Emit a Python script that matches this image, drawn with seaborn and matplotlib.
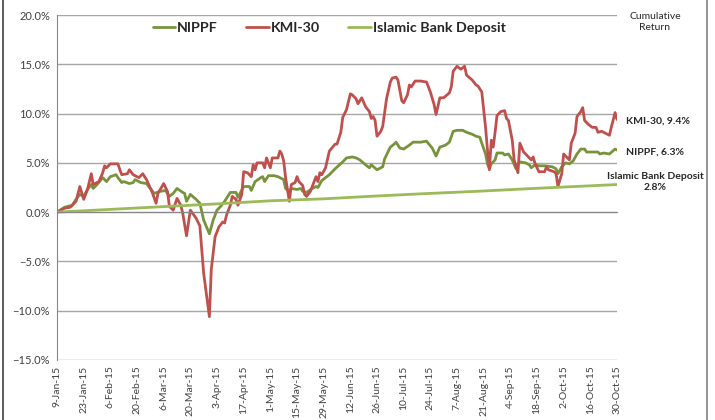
import pandas as pd
import numpy as np
import matplotlib
matplotlib.use("Agg")
import matplotlib.pyplot as plt
import matplotlib.ticker as mticker
import matplotlib.dates as mdates
from matplotlib.lines import Line2D
import seaborn as sns

start = pd.Timestamp("2015-01-09")

# day offsets from 9-Jan-15 and cumulative returns in %
kmi_days = [0, 4, 7, 10, 12, 14, 16, 18, 19, 22, 24, 25, 26, 28, 32, 33, 34, 37, 38, 40,
            43, 45, 47, 50, 52, 53, 56, 58, 59, 61, 63, 65, 66, 68, 70, 73, 75, 77, 80, 81,
            83, 85, 87, 88, 89, 91, 92, 94, 95, 97, 98, 100, 102, 103, 104, 105, 108, 109, 110, 112,
            113, 116, 117, 118, 119, 120, 122, 123, 125, 126, 127, 129, 130, 131, 133, 136, 137, 138, 139, 141,
            143, 146, 147, 149, 150, 152, 154, 155, 157, 158, 160, 162, 164, 165, 166, 167, 168, 170, 171, 173,
            175, 176, 178, 179, 181, 182, 184, 185, 186, 188, 191, 194, 196, 198, 199, 201, 203, 206, 207, 208,
            210, 212, 214, 215, 218, 220, 221, 223, 225, 226, 227, 228, 229, 230, 231, 233, 235, 236, 237, 239,
            240, 242, 243, 245, 247, 249, 250, 251, 253, 256, 257, 258, 261, 262, 263, 265, 266, 268, 269, 270,
            272, 273, 275, 276, 277, 279, 281, 283, 284, 286, 288, 290, 291, 293, 294]
kmi_vals = [0.0, 0.4, 0.5, 1.1, 2.6, 1.3, 2.3, 3.9, 2.8, 3.1, 4.0, 4.7, 4.5, 4.9, 4.9, 4.3, 3.8, 3.9, 4.3, 3.8,
            3.5, 3.9, 3.3, 2.0, 0.9, 1.9, 2.9, 2.1, 0.6, 0.2, 1.4, 0.7, -0.1, -2.4, 0.2, -0.6, -1.4, -6.2, -10.6, -5.8,
            -2.5, -1.5, -1.0, -1.1, -0.3, 0.7, 1.6, 1.3, 0.7, 1.8, 4.1, 4.0, 3.6, 4.8, 4.3, 5.0, 5.0, 4.5, 5.5, 4.5,
            5.5, 5.5, 6.2, 5.9, 5.2, 3.5, 1.1, 2.8, 3.0, 3.6, 3.1, 2.7, 1.8, 1.6, 2.1, 3.6, 3.1, 4.0, 3.8, 4.5,
            6.2, 6.9, 6.9, 8.1, 9.6, 10.4, 12.0, 11.9, 11.5, 11.0, 11.6, 10.7, 10.2, 9.5, 9.7, 9.3, 7.7, 8.2, 8.7, 11.5,
            13.2, 13.6, 13.7, 13.4, 11.3, 11.1, 11.9, 12.9, 12.7, 13.3, 13.3, 13.2, 12.2, 10.9, 9.9, 11.6, 11.6, 12.1, 12.7, 14.3,
            14.8, 14.5, 14.8, 13.9, 13.4, 12.9, 12.8, 12.2, 8.6, 6.3, 4.3, 7.3, 6.6, 8.1, 9.8, 10.2, 10.3, 9.5, 9.3, 7.3,
            5.3, 4.0, 7.0, 6.1, 5.7, 5.3, 5.6, 4.9, 4.1, 4.1, 4.6, 4.3, 4.1, 3.9, 2.6, 3.9, 5.9, 5.5, 5.3, 7.0,
            8.0, 9.7, 10.2, 10.6, 9.3, 8.9, 8.6, 8.6, 8.1, 8.2, 8.0, 7.8, 8.6, 10.1, 9.4]

nippf_days = [0, 4, 8, 10, 12, 14, 16, 18, 19, 21, 24, 26, 28, 31, 32, 34, 35, 38, 40, 41,
              44, 47, 51, 54, 57, 59, 61, 63, 66, 67, 68, 70, 73, 75, 77, 80, 82, 84, 86, 88,
              91, 94, 95, 98, 101, 102, 104, 107, 108, 109, 111, 114, 116, 119, 120, 122, 123, 126, 128, 129,
              131, 134, 136, 137, 139, 143, 146, 150, 152, 155, 157, 159, 162, 164, 165, 168, 171, 172, 175, 177,
              178, 180, 182, 185, 187, 191, 194, 197, 199, 201, 204, 206, 208, 210, 213, 215, 218, 220, 222, 223,
              225, 226, 227, 228, 230, 231, 234, 235, 237, 239, 241, 242, 243, 246, 248, 249, 251, 253, 256, 260,
              262, 263, 265, 267, 269, 271, 273, 275, 277, 278, 282, 284, 285, 287, 290, 293, 294]
nippf_vals = [0.0, 0.5, 0.7, 1.3, 1.8, 1.6, 2.3, 2.8, 2.4, 2.8, 3.5, 3.1, 3.6, 3.8, 3.5, 3.0, 3.1, 2.9, 3.0, 3.3,
              3.0, 2.9, 1.9, 2.1, 2.2, 1.6, 1.9, 2.4, 2.0, 1.9, 1.1, 1.8, 1.3, 0.9, -0.8, -2.2, -0.8, 0.2, 0.6, 1.1,
              2.0, 2.0, 1.5, 2.6, 2.6, 2.2, 3.1, 3.5, 3.6, 3.1, 3.7, 3.7, 3.6, 3.3, 2.4, 2.1, 2.4, 2.3, 2.4, 2.1,
              2.0, 2.4, 2.6, 2.5, 3.2, 3.8, 4.4, 5.1, 5.5, 5.6, 5.5, 5.3, 4.8, 4.5, 4.8, 4.3, 4.6, 5.4, 6.6, 6.9,
              7.1, 6.5, 6.4, 6.8, 7.1, 7.1, 7.2, 6.5, 5.7, 6.6, 6.8, 7.1, 8.2, 8.3, 8.3, 8.1, 7.9, 7.7, 7.6, 7.0,
              5.9, 4.9, 4.4, 4.9, 5.3, 6.0, 6.0, 5.8, 5.9, 5.3, 4.4, 4.9, 5.1, 5.0, 4.8, 4.5, 4.8, 4.7, 4.7, 4.6,
              4.4, 3.9, 4.6, 5.0, 4.9, 5.2, 5.9, 6.4, 6.4, 6.1, 6.1, 6.1, 5.9, 6.0, 5.9, 6.4, 6.3]

deposit_days = [0, 30, 54, 85, 112, 140, 164, 190, 219, 250, 294]
deposit_vals = [0.0, 0.3, 0.54, 0.85, 1.15, 1.35, 1.6, 1.85, 2.1, 2.4, 2.8]

tick_labels = ["9-Jan-15", "23-Jan-15", "6-Feb-15", "20-Feb-15", "6-Mar-15", "20-Mar-15",
               "3-Apr-15", "17-Apr-15", "1-May-15", "15-May-15", "29-May-15", "12-Jun-15",
               "26-Jun-15", "10-Jul-15", "24-Jul-15", "7-Aug-15", "21-Aug-15", "4-Sep-15",
               "18-Sep-15", "2-Oct-15", "16-Oct-15", "30-Oct-15"]

end_labels = ["KMI-30, 9.4%", "NIPPF, 6.3%", "Islamic Bank Deposit\n2.8%"]

c_nippf = "#77933C"
c_kmi = "#C0504D"
c_dep = "#9BBB59"

sns.set_style("white")
plt.rcParams["font.family"] = ["Lato", "DejaVu Sans"]

def to_dates(days):
    return start + pd.to_timedelta(days, unit="D")

fig = plt.figure(figsize=(7.15, 4.2), dpi=100)
ax = fig.add_axes([57 / 715, 60 / 420, 560 / 715, 345 / 420])

sns.lineplot(x=to_dates(nippf_days), y=nippf_vals, ax=ax, color=c_nippf, linewidth=2.0, label="NIPPF")
sns.lineplot(x=to_dates(kmi_days), y=kmi_vals, ax=ax, color=c_kmi, linewidth=2.0, label="KMI-30")
sns.lineplot(x=to_dates(deposit_days), y=deposit_vals, ax=ax, color=c_dep, linewidth=2.0,
             label="Islamic Bank Deposit")

ax.set_xlim(start, to_dates([294])[0])
ax.set_ylim(-15, 20)
ax.set_yticks(np.arange(-15, 20.1, 5))
ax.yaxis.set_major_formatter(mticker.PercentFormatter(decimals=1))
ax.grid(axis="y", color="#a6a6a6", linewidth=1.0)
ax.grid(axis="x", visible=False)
ax.set_xlabel("")
ax.set_ylabel("")

for s in ["top", "right"]:
    ax.spines[s].set_visible(False)
ax.spines["left"].set_color("#868686")
ax.spines["bottom"].set_color("#868686")
ax.spines["bottom"].set_position(("data", 0))

tick_pos = mdates.date2num(pd.to_datetime(tick_labels, format="%d-%b-%y"))
ax.set_xticks(tick_pos)
ax.tick_params(axis="x", direction="out", length=3, color="#868686", labelbottom=False)
ax.tick_params(axis="y", direction="out", length=3, color="#868686", labelsize=8, labelcolor="#404040", pad=2)

sec = ax.secondary_xaxis("bottom")
sec.set_xticks(tick_pos, tick_labels, rotation=90)
sec.tick_params(length=0, labelsize=7.5, labelcolor="#404040", pad=4)
sec.spines["bottom"].set_visible(False)

leg = ax.legend(loc="center", bbox_to_anchor=(0.486, 0.962), ncol=3, frameon=False,
                handlelength=1.55, handletextpad=0.15, columnspacing=2.0,
                prop={"weight": "bold", "size": 10.3})
for t in leg.get_texts():
    t.set_color("#262626")

fig.text(655 / 715, 1 - 22 / 420, "Cumulative\nReturn", ha="center", va="center",
         fontsize=7.5, color="#262626", linespacing=1.3)
fig.text(626 / 715, 1 - 121 / 420, end_labels[0], ha="left", va="center",
         fontsize=7.5, fontweight="bold", color="#262626")
fig.text(626 / 715, 1 - 152 / 420, end_labels[1], ha="left", va="center",
         fontsize=7.5, fontweight="bold", color="#262626")
fig.text(655 / 715, 1 - 182 / 420, end_labels[2], ha="center", va="center",
         fontsize=7.5, fontweight="bold", color="#262626", linespacing=1.4)

# chart area frame edges
fig.add_artist(Line2D([3 / 715, 3 / 715], [0, 1], transform=fig.transFigure, color="#404040", linewidth=1.2))
fig.add_artist(Line2D([707 / 715, 707 / 715], [0, 1], transform=fig.transFigure, color="#7f7f7f", linewidth=1.2))

fig.savefig("out.png", dpi=100)
